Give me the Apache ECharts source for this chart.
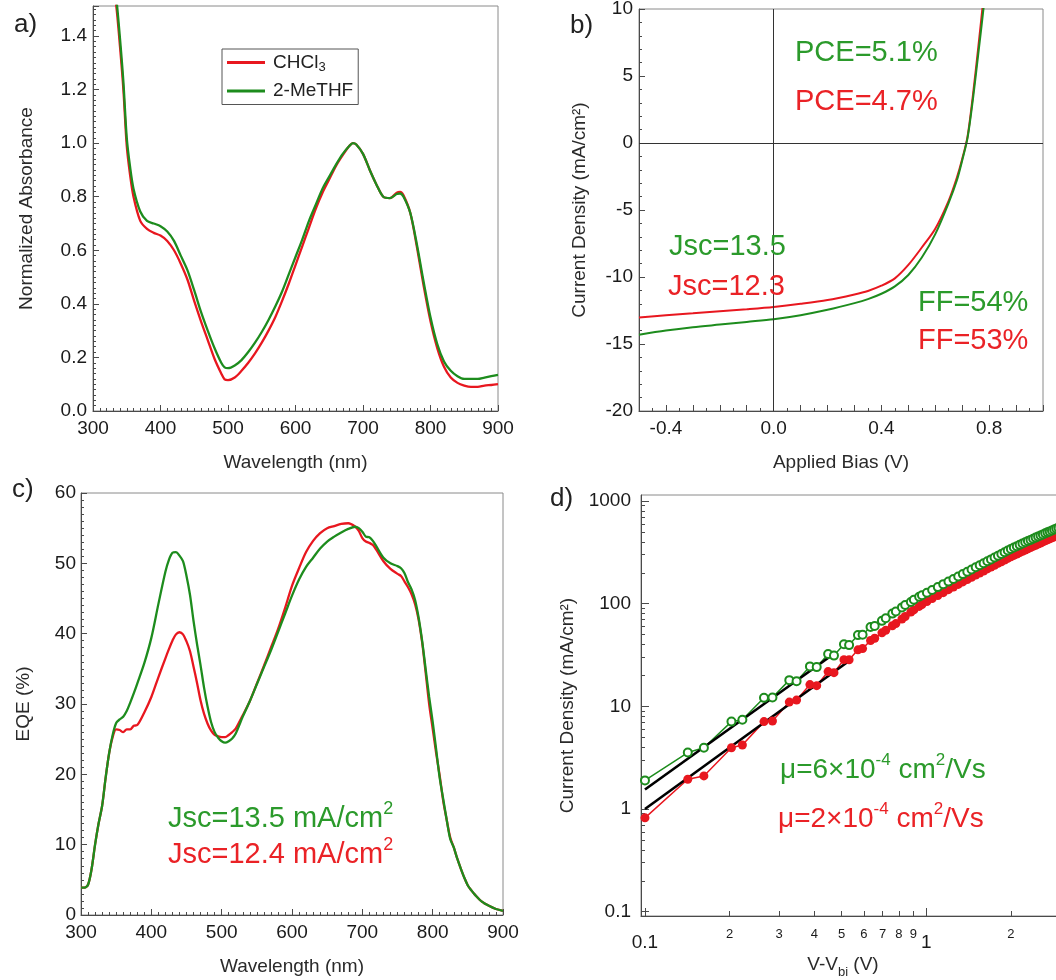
<!DOCTYPE html>
<html><head><meta charset="utf-8">
<script src="https://cdn.jsdelivr.net/npm/echarts@6/dist/echarts.min.js"></script>
<style>html,body{margin:0;padding:0;background:#fff}#c{width:1056px;height:980px}</style>
</head><body><div id="c"></div>
<script>
// ---------- Panel a: absorbance ----------
const wlA = [328,335,340,345,350,355,360,370,380,390,
  400,410,420,430,440,450,460,470,480,490,
  495,500,510,520,530,540,550,560,570,580,
  590,600,610,620,630,640,650,660,670,680,
  685,690,700,710,720,730,740,750,755,760,
  770,780,790,800,810,820,830,840,850,860,
  870,880,890,900];
const absCHCl3 = [1.65,1.50,1.36,1.20,0.99,0.88,0.80,0.71,0.68,0.665,
  0.655,0.635,0.60,0.55,0.49,0.41,0.335,0.265,0.195,0.14,
  0.118,0.115,0.125,0.15,0.18,0.215,0.255,0.30,0.35,0.41,
  0.475,0.545,0.615,0.685,0.755,0.815,0.865,0.915,0.955,0.99,
  1.0,0.995,0.96,0.90,0.845,0.80,0.795,0.815,0.818,0.805,
  0.74,0.61,0.465,0.335,0.235,0.165,0.125,0.105,0.095,0.09,
  0.09,0.095,0.097,0.10];
const absMeTHF = [1.68,1.53,1.39,1.23,1.02,0.91,0.83,0.745,0.71,0.70,
  0.69,0.67,0.635,0.58,0.525,0.45,0.37,0.30,0.235,0.18,
  0.163,0.16,0.17,0.19,0.22,0.255,0.295,0.34,0.39,0.445,
  0.51,0.575,0.64,0.71,0.77,0.83,0.875,0.92,0.96,0.99,
  1.0,0.995,0.96,0.90,0.845,0.80,0.795,0.81,0.812,0.80,
  0.74,0.62,0.48,0.35,0.25,0.185,0.15,0.13,0.12,0.12,
  0.12,0.125,0.13,0.135];

// ---------- Panel b: J-V ----------
const biasV = [-0.5,-0.4,-0.3,-0.2,-0.1,0,0.1,0.2,0.3,0.35,0.4,0.45,0.5,0.55,0.6,0.65,0.68,0.7,0.72,0.74,0.76,0.78,0.8];
const jvCHCl3 = [-13.02,-12.85,-12.7,-12.55,-12.4,-12.23,-12.0,-11.72,-11.3,-11.04,-10.65,-10.1,-9.1,-7.8,-6.4,-4.3,-2.6,-1.2,0.5,3.6,7.2,11.0,15.0];
const jvMeTHF = [-14.31,-14.0,-13.75,-13.55,-13.35,-13.15,-12.85,-12.45,-11.95,-11.65,-11.25,-10.7,-9.85,-8.55,-6.8,-4.45,-2.8,-1.3,0.4,3.3,6.7,10.2,14.0];

// ---------- Panel c: EQE ----------
const wlC = [300,305,310,315,320,325,330,335,340,345,
  350,355,360,365,370,375,380,390,400,410,
  420,425,430,435,440,445,450,455,460,465,
  470,475,480,485,490,495,500,505,510,515,
  520,530,540,550,560,570,580,590,600,610,
  620,630,640,650,660,670,680,690,695,700,
  705,710,715,720,730,740,750,755,760,765,
  770,775,780,785,790,795,800,805,810,815,
  820,825,830,835,840,845,850,855,860,870,
  880,890,900];
const eqeMeTHF = [3.9,3.9,4.3,6.5,10.0,13.0,15.5,19.5,23.0,25.6,
  27.3,27.8,28.2,29.0,30.2,31.5,32.9,35.8,39.4,44.2,
  48.8,50.5,51.5,51.6,51.1,50.3,48.2,45.5,41.8,38.5,
  35.5,32.3,29.6,27.4,26.0,25.2,24.7,24.5,24.7,25.1,
  25.8,28.2,30.4,32.8,35.2,37.6,40.2,42.8,45.4,47.7,
  49.5,50.8,52.1,53.1,53.8,54.4,54.9,55.2,55.0,54.5,
  53.8,53.7,53.2,52.4,50.8,50.0,49.6,49.3,48.6,47.3,
  46.3,44.8,42.3,39.0,35.0,31.0,27.5,23.5,19.5,16.5,
  13.5,10.8,9.6,8.0,6.6,5.3,4.2,3.5,2.9,1.9,
  1.3,0.85,0.6];
const eqeCHCl3 = [3.9,3.9,4.3,6.5,10.0,13.0,15.5,19.5,23.0,25.3,
  26.4,26.3,26.0,26.4,26.4,26.9,27.0,28.8,31.0,33.8,
  36.5,37.8,39.0,39.9,40.2,39.9,38.9,37.5,35.3,33.0,
  30.5,28.6,27.2,26.2,25.6,25.4,25.3,25.3,25.6,26.0,
  26.5,28.4,30.4,32.9,35.4,38.0,40.6,43.6,46.8,49.3,
  51.6,53.2,54.3,55.0,55.3,55.6,55.7,55.2,54.6,53.6,
  53.1,52.9,52.6,51.9,50.3,49.2,48.5,48.2,47.4,46.6,
  45.6,44.2,42.0,38.8,34.5,30.0,26.5,23.0,19.8,16.2,
  13.5,11.0,9.6,8.0,6.6,5.3,4.2,3.5,2.9,1.9,
  1.3,0.85,0.6];

// ---------- Panel d: SCLC (log-log) ----------
const sclcV = [0.100,0.142,0.162,0.203,0.222,0.265,0.284,0.326,0.346,0.386,
  0.408,0.448,0.470,0.510,0.532,0.572,0.594,0.634,0.656,0.696,
  0.718,0.758,0.780,0.820,0.842,0.882,0.904,0.944,0.966,1.006,
  1.05,1.10,1.15,1.20,1.25,1.30,1.35,1.40,1.45,1.50,
  1.55,1.60,1.65,1.70,1.75,1.80,1.85,1.90,1.95,2.00,
  2.05,2.10,2.15,2.20,2.25,2.30,2.35,2.40,2.45,2.50,
  2.55,2.60,2.65,2.70,2.75,2.80,2.85,2.90,2.95,3.00];
const sclcMeTHF = [1.9,3.55,3.95,7.1,7.4,12.1,12.2,18.0,17.6,24.5,
  24.1,32.3,31.2,40.3,39.5,49.4,49.8,59.2,60.5,68.0,
  72.0,80.0,84.0,92.0,97.0,104,109,117,121,128,
  136,145,155,164,174,184,194,205,215,226,
  237,248,259,270,282,293,305,317,329,341,
  352,363,374,385,396,407,418,429,440,451,
  462,473,484,495,506,517,528,539,550,561];
const sclcCHCl3 = [0.82,1.95,2.1,3.95,4.2,7.1,7.2,11.0,11.5,16.3,
  15.9,21.8,21.3,28.5,28.4,35.5,36.5,43.8,46.0,52.0,
  55.0,61.0,64.0,71.0,75.0,83.0,87.0,94.0,98.0,105,
  112,120,128,137,145,154,163,172,181,190,
  199,208,218,227,237,247,256,266,276,286,
  295,305,314,324,333,343,352,362,371,381,
  390,400,409,419,428,438,447,457,466,475];
const fitMeTHFV = [0.1, 0.47];
const fitMeTHFJ = [1.55, 32.5];
const fitCHCl3V = [0.1, 0.53];
const fitCHCl3J = [1.0, 27.5];

// tick label values
const dXMajor = [0.1, 1];
const dXMinor = [0.2,0.3,0.4,0.5,0.6,0.7,0.8,0.9,2];
const dYMajor = [0.1, 1, 10, 100, 1000];
const dYMinor = [0.2,0.3,0.4,0.5,0.6,0.7,0.8,0.9,2,3,4,5,6,7,8,9,20,30,40,50,60,70,80,90,200,300,400,500,600,700,800,900];

// ---------- styles ----------
const FONT = '"Liberation Sans", Arial, sans-serif';
const RED = '#e8171f', GREEN = '#1d8c1d';
const RED_T = '#ea2226', GREEN_T = '#2b9a2b';
const AX = '#4a4a4a';
const zip = (xs, ys) => xs.map((x, i) => [x, ys[i]]);

function tick(len, extra) { return Object.assign({show:true, inside:true, length:len, lineStyle:{color:AX, width:1}}, extra || {}); }
function label(extra) { return Object.assign({show:true, fontFamily:FONT, fontSize:19, color:'#1a1a1a', margin:7}, extra || {}); }
const axLine = {show:true, onZero:false, lineStyle:{color:AX, width:1}};
const nameStyle = {fontFamily:FONT, fontSize:19, color:'#2a2a2a'};

function linAxis(o) {
  return {
    type:'value', gridIndex:o.grid, min:o.min, max:o.max, interval:o.interval,
    axisLine:axLine, axisTick:tick(6),
    minorTick:{show:true, splitNumber:o.split, length:3, lineStyle:{color:AX, width:1}},
    splitLine:{show:false}, minorSplitLine:{show:false},
    axisLabel:label({formatter:o.fmt, margin:o.margin || 7, showMaxLabel:o.showMax !== false}),
    name:o.name, nameLocation:'middle', nameGap:o.gap, nameTextStyle:nameStyle
  };
}
const gridBase = {show:true, borderColor:'#8a8a8a', borderWidth:1, containLabel:false, outerBoundsMode:'none'};

const option = {
  animation:false,
  backgroundColor:'#fff',
  textStyle:{fontFamily:FONT},
  grid:[
    Object.assign({left:93, top:6, width:405, height:405}, gridBase),
    Object.assign({left:639, top:9, width:404, height:402}, gridBase),
    Object.assign({left:81, top:493, width:422, height:422}, gridBase),
    Object.assign({left:641, top:495, width:431, height:421}, gridBase)
  ],
  xAxis:[
    linAxis({grid:0, min:300, max:900, interval:100, split:10, fmt:v=>String(v), name:'Wavelength (nm)', gap:42, margin:8}),
    linAxis({grid:1, min:-0.5, max:1.0, interval:0.1, split:2,
      fmt:v=>{const r=Math.round(v*10); return (r % 4 === 0) ? (r/10).toFixed(1) : '';}, name:'Applied Bias (V)', gap:42, margin:8}),
    linAxis({grid:2, min:300, max:900, interval:100, split:10, fmt:v=>String(v), name:'Wavelength (nm)', gap:42, margin:8}),
    {type:'log', gridIndex:3, min:0.0968, max:3.3, position:'bottom',
      axisLine:axLine, axisTick:tick(8, {customValues:dXMajor}),
      axisLabel:label({customValues:dXMajor, margin:17, formatter:v=> v < 1 ? '0.1' : '1'}),
      splitLine:{show:false}, minorTick:{show:false}},
    {type:'log', gridIndex:3, min:0.0968, max:3.3, position:'bottom',
      axisLine:{show:false}, axisTick:tick(5, {customValues:dXMinor}),
      axisLabel:label({customValues:dXMinor, margin:12, fontSize:13, formatter:v=> String(v < 1 ? Math.round(v*10) : Math.round(v))}),
      splitLine:{show:false}, minorTick:{show:false}}
  ],
  yAxis:[
    linAxis({grid:0, min:0, max:1.512, interval:0.2, split:10, fmt:v=>v.toFixed(1), name:'Normalized Absorbance', gap:57, margin:6, showMax:false}),
    linAxis({grid:1, min:-20, max:10, interval:5, split:5, fmt:v=>String(v), name:'Current Density (mA/cm²)', gap:50, margin:6}),
    linAxis({grid:2, min:0, max:60, interval:10, split:10, fmt:v=>String(v), name:'EQE (%)', gap:48, margin:5}),
    {type:'log', gridIndex:3, min:0.0908, max:1144, position:'left',
      axisLine:axLine, axisTick:tick(8, {customValues:dYMajor}),
      axisLabel:label({customValues:dYMajor, margin:10, formatter:v=> v < 1 ? '0.1' : String(Math.round(v))}),
      splitLine:{show:false}, minorTick:{show:false},
      name:'Current Density (mA/cm²)', nameLocation:'middle', nameGap:64, nameTextStyle:nameStyle},
    {type:'log', gridIndex:3, min:0.0908, max:1144, position:'left',
      axisLine:{show:false}, axisTick:tick(4, {customValues:dYMinor}),
      axisLabel:{show:false}, splitLine:{show:false}, minorTick:{show:false}}
  ],
  legend:{
    data:['CHCl3','2-MeTHF'], orient:'vertical', left:222, top:49,
    padding:[4,5,4,5], itemGap:8, itemWidth:38, itemHeight:3, icon:'rect',
    borderColor:'#555', borderWidth:1, backgroundColor:'#fff', selectedMode:false,
    formatter:n => n === 'CHCl3' ? '{n|CHCl}{s|3}' : '{n|2-MeTHF}',
    textStyle:{fontFamily:FONT, fontSize:19, color:'#222', padding:[0,0,0,3],
      rich:{n:{fontFamily:FONT, fontSize:19, color:'#222', lineHeight:22},
            s:{fontFamily:FONT, fontSize:13, color:'#222', lineHeight:22, verticalAlign:'bottom'}}}
  },
  series:[
    {type:'line', name:'CHCl3', xAxisIndex:0, yAxisIndex:0, data:zip(wlA, absCHCl3), symbol:'none', smooth:0.3,
      lineStyle:{color:RED, width:2.3}, itemStyle:{color:RED}},
    {type:'line', name:'2-MeTHF', xAxisIndex:0, yAxisIndex:0, data:zip(wlA, absMeTHF), symbol:'none', smooth:0.3,
      lineStyle:{color:GREEN, width:2.3}, itemStyle:{color:GREEN}},
    {type:'line', name:'JV CHCl3', xAxisIndex:1, yAxisIndex:1, data:zip(biasV, jvCHCl3), symbol:'none', smooth:0.3,
      lineStyle:{color:RED, width:2}, itemStyle:{color:RED},
      markLine:{silent:true, symbol:['none','none'], label:{show:false}, animation:false,
        lineStyle:{color:'#333', width:1, type:'solid'}, emphasis:{disabled:true},
        data:[{xAxis:0},{yAxis:0}]}},
    {type:'line', name:'JV 2-MeTHF', xAxisIndex:1, yAxisIndex:1, data:zip(biasV, jvMeTHF), symbol:'none', smooth:0.3,
      lineStyle:{color:GREEN, width:2}, itemStyle:{color:GREEN}},
    {type:'line', name:'EQE CHCl3', xAxisIndex:2, yAxisIndex:2, data:zip(wlC, eqeCHCl3), symbol:'none', smooth:0.3,
      lineStyle:{color:RED, width:2.3}, itemStyle:{color:RED}},
    {type:'line', name:'EQE 2-MeTHF', xAxisIndex:2, yAxisIndex:2, data:zip(wlC, eqeMeTHF), symbol:'none', smooth:0.3,
      lineStyle:{color:GREEN, width:2.3}, itemStyle:{color:GREEN}},
    {type:'line', name:'SCLC CHCl3', xAxisIndex:3, yAxisIndex:3, data:zip(sclcV, sclcCHCl3), symbol:'circle', symbolSize:9,
      lineStyle:{color:RED, width:1.5}, itemStyle:{color:RED}},
    {type:'line', name:'SCLC 2-MeTHF', xAxisIndex:3, yAxisIndex:3, data:zip(sclcV, sclcMeTHF), symbol:'emptyCircle', symbolSize:8,
      lineStyle:{color:GREEN, width:1.5}, itemStyle:{color:GREEN, borderColor:GREEN, borderWidth:1.4}},
    {type:'line', name:'fit CHCl3', xAxisIndex:3, yAxisIndex:3, data:zip(fitCHCl3V, fitCHCl3J), symbol:'none',
      lineStyle:{color:'#000', width:2.6}},
    {type:'line', name:'fit 2-MeTHF', xAxisIndex:3, yAxisIndex:3, data:zip(fitMeTHFV, fitMeTHFJ), symbol:'none',
      lineStyle:{color:'#000', width:2.6}}
  ]
};

function txt(x, y, text, color, size, opts) {
  return Object.assign({type:'text', x:x, y:y, silent:true, z:100,
    style:Object.assign({text:text, fill:color, fontFamily:FONT, fontSize:size, verticalAlign:'middle', align:'left'}, (opts && opts.style) || {})});
}
const supRich = (size, color) => ({
  t:{fontFamily:FONT, fontSize:size, fill:color, lineHeight:size+4, verticalAlign:'bottom'},
  sup:{fontFamily:FONT, fontSize:Math.round(size*0.62), fill:color, lineHeight:size+4, verticalAlign:'top'}
});
option.graphic = [
  txt(14, 25, 'a)', '#222', 26),
  txt(570, 26, 'b)', '#222', 26),
  txt(12, 490, 'c)', '#222', 26),
  txt(550, 499, 'd)', '#222', 26),
  txt(795, 53, 'PCE=5.1%', GREEN_T, 29),
  txt(795, 102, 'PCE=4.7%', RED_T, 29),
  txt(669, 247, 'Jsc=13.5', GREEN_T, 29),
  txt(668, 287, 'Jsc=12.3', RED_T, 29),
  txt(918, 303, 'FF=54%', GREEN_T, 29),
  txt(918, 341, 'FF=53%', RED_T, 29),
  txt(168, 817, '', GREEN_T, 29, {style:{text:'{t|Jsc=13.5 mA/cm}{sup|2}', rich:supRich(29, GREEN_T)}}),
  txt(168, 853, '', RED_T, 29, {style:{text:'{t|Jsc=12.4 mA/cm}{sup|2}', rich:supRich(29, RED_T)}}),
  txt(780, 768, '', GREEN_T, 28, {style:{text:'{t|μ=6×10}{sup|-4}{t| cm}{sup|2}{t|/Vs}', rich:supRich(28, GREEN_T)}}),
  txt(778, 817, '', RED_T, 28, {style:{text:'{t|μ=2×10}{sup|-4}{t| cm}{sup|2}{t|/Vs}', rich:supRich(28, RED_T)}}),
  txt(843, 967, '', '#2a2a2a', 19, {style:{align:'center', text:'{t|V-V}{s|bi}{t| (V)}',
    rich:{t:{fontFamily:FONT, fontSize:19, fill:'#2a2a2a', lineHeight:24, verticalAlign:'top'},
          s:{fontFamily:FONT, fontSize:13, fill:'#2a2a2a', lineHeight:24, verticalAlign:'bottom'}}}})
];

const chart = echarts.init(document.getElementById('c'), null, {renderer:'canvas'});
chart.setOption(option);
</script></body></html>
